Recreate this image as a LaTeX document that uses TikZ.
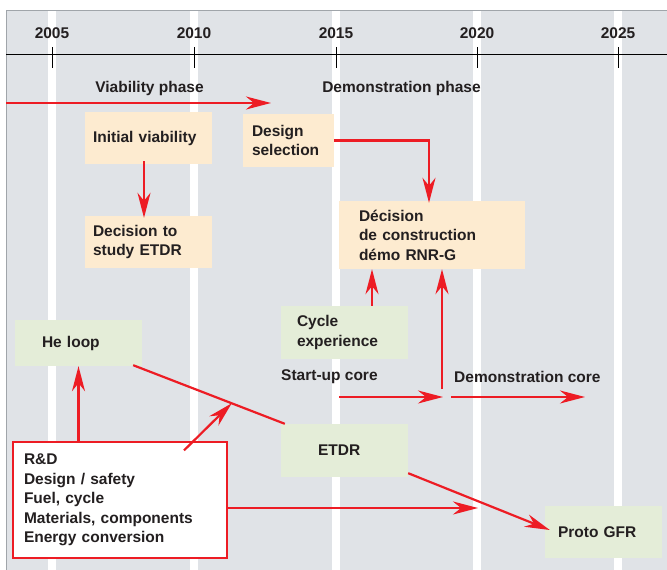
\documentclass[tikz,border=0pt]{standalone}
\usepackage{fontspec}
\setmainfont{Liberation Sans}
\usepackage{tikz}
\usetikzlibrary{arrows.meta, calc}

\definecolor{bggray}{RGB}{224,227,231}
\definecolor{framegray}{RGB}{160,165,170}
\definecolor{peach}{RGB}{253,235,208}
\definecolor{sage}{RGB}{228,237,216}
\definecolor{roadred}{RGB}{237,28,36}
\definecolor{ink}{RGB}{35,31,32}

\begin{document}
\begin{tikzpicture}[
  x=1pt, y=-1pt,
  box/.style={align=left, inner ysep=0pt, text=ink,
              font=\fontsize{15.5}{19.5}\selectfont\bfseries},
  boxvia/.style={box, fill=peach},
  boxexp/.style={box, fill=sage},
  boxrd/.style={box, fill=white, draw=roadred, line width=1.2pt},
  arrow/.style={-{Stealth[length=25pt,width=13pt,inset=8pt]},
                line width=2.2pt, draw=roadred},
  link/.style={line width=2.2pt, draw=roadred},
  label/.style={inner sep=0pt, text=ink,
                font=\fontsize{15.5}{19.5}\selectfont\bfseries},
]
\useasboundingbox (0,0) rectangle (667,570);

%% -- fond et bandes des annees --------------------------------------------
\fill[bggray] (6,10) rectangle (667,570);
\foreach \yr/\xx in {2005/52, 2010/194, 2015/336, 2020/477, 2025/618} {
  \fill[white] (\xx-4,10) rectangle (\xx+4,570);
  \draw[line width=0.8pt] (\xx,47) -- (\xx,68);
  \node[label] (y\yr) at (\xx,33) {\yr};
}
\draw[framegray, line width=1pt] (6.5,570) -- (6.5,10.5) -- (667,10.5);
\draw[line width=1pt] (6,54) -- (667,54);

%% -- phases -----------------------------------------------------------------
\node[label] (viaph) at (149.5,88) {Viability phase};
\node[label] (demph) at (401.5,88) {Demonstration phase};
\coordinate (vstart) at (6,103);
\coordinate (vend) at (271,103);

%% -- boites viabilite / decision ------------------------------------------
\node[boxvia, text width=111pt, inner xsep=8pt, minimum height=52pt]
  (init) at (148.5,138) {Initial viability};
\node[boxvia, text width=111pt, inner xsep=8pt, minimum height=52pt]
  (decide) at (148.5,242) {Decision to\\study ETDR};
\node[boxvia, text width=73pt, inner xsep=9pt, minimum height=53pt]
  (design) at (288.5,140.5) {Design\\selection};
\node[boxvia, text width=146pt, inner xsep=20pt, minimum height=68pt]
  (decision) at (432,235) {Décision\\de construction\\démo RNR-G};

%% -- boites experience ----------------------------------------------------
\node[boxexp, text width=73pt, inner xsep=27pt, minimum height=46pt]
  (heloop) at (78.5,343) {He loop};
\node[boxexp, text width=95pt, inner xsep=16pt, minimum height=53pt]
  (cycle) at (344.5,332.5) {Cycle\\experience};
\node[boxexp, text width=53pt, inner xsep=37pt, minimum height=53pt]
  (etdr) at (344.5,450.5) {ETDR};
\node[boxexp, text width=91pt, inner xsep=13pt, minimum height=52pt]
  (proto) at (603.5,532) {Proto GFR};

%% -- boite R&D --------------------------------------------------------------
\node[boxrd, text width=192pt, inner xsep=11pt, minimum height=116pt]
  (rd) at (120,500) {R\&D\\Design / safety\\Fuel, cycle\\
                     Materials, components\\Energy conversion};

%% -- coeurs -------------------------------------------------------------------
\node[label, anchor=west] (sucore) at (281,377) {Start-up core};
\node[label, anchor=west] (dmcore) at (454,377) {Demonstration core};
\coordinate (sustart) at (339,397);
\coordinate (switch) at (443,397);
\coordinate (dcstart) at (451,397);
\coordinate (dcend) at (585,397);
\coordinate (rdend) at (478,508);
\coordinate (hl) at ($(heloop.south east)+(-9,-1)$);
\coordinate (et) at ($(etdr.north west)+(4,0)$);

%% -- fleches --------------------------------------------------------------
\draw[arrow] (vstart) -- (vend);
\draw[arrow] ($(init.south)+(-4.5,-3)$) -- ($(decide.north)+(-4.5,2)$);
\draw[arrow] (design.east) -| ($(decision.north)+(-3,2)$);
\draw[arrow] ($(cycle.north)+(27.5,0)$) -- ($(decision.south)+(-60,0)$);
\draw[arrow] ($(switch)+(-1,-8)$) -- ($(decision.south)+(10,0)$);
\draw[arrow] (sustart) -- (switch);
\draw[arrow] (dcstart) -- (dcend);
\draw[arrow] (rd.north -| heloop.south) -- (heloop.south);
\draw[link] (hl) -- (et);
\draw[arrow] ($(rd.north)+(64,9)$) -- ($(hl)!0.65!(et)$);
\draw[arrow] ($(rd.east)+(0,8)$) -- (rdend);
\draw[arrow] ($(etdr.south east)+(0,-4)$) -- ($(proto.west)+(5,-2)$);

\end{tikzpicture}
\end{document}
